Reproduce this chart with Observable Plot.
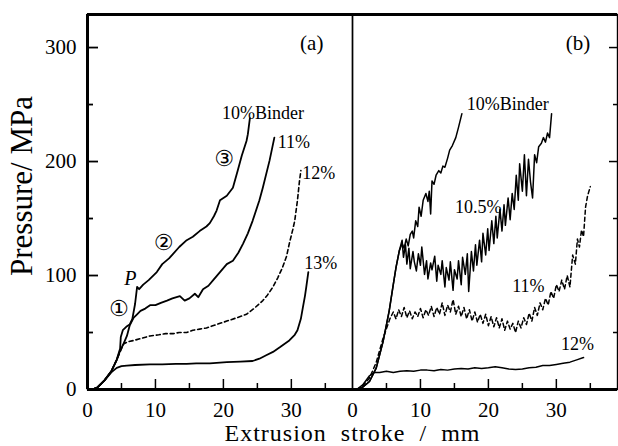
<!DOCTYPE html>
<html><head><meta charset="utf-8">
<script src="https://cdn.jsdelivr.net/npm/d3@7"></script>
<script src="https://cdn.jsdelivr.net/npm/@observablehq/plot@0.6"></script>
<style>
body{margin:0;background:#fff}
#chart svg{font-family:serif;}
</style>
</head><body><div id="chart"></div>
<script>
// ---- data ----
const xMax = 39, yMax = 329;
const xTickLabels = [0, 10, 20, 30];
const xTicksMajor = [10, 20, 30];
const xTicksMinor = [5, 15, 25, 35];
const yTickLabels = [0, 100, 200, 300];
const yTicksMajor = [100, 200, 300];
const yTicksMinor = [50, 150, 250];

// Panel (a)
const a10 = [[0.7,0],[1.5,2],[2.5,8],[3.5,16],[4.3,26],[4.8,36],[4.9,46],[5.2,52],[5.7,55],[6.2,57],[6.6,62],[7.0,75],[7.3,90],[7.6,88],[8.2,92],[9.0,96],[10.2,103],[11.0,110],[12.0,115],[12.6,119],[13.5,125],[14.6,131],[15.5,134],[16.5,139],[17.5,143],[18.0,146],[18.6,152],[19.0,157],[19.5,166],[20.5,170],[21.4,177],[22.1,192],[22.7,205],[23.4,218],[23.6,224],[23.9,238]];
const a11 = [[0.7,0],[1.5,2],[2.5,8],[3.5,16],[4.3,26],[4.8,34],[5.3,40],[5.8,47],[6.2,56],[6.8,63],[7.3,66],[7.8,69],[8.5,71],[9.2,74],[10,74],[10.8,76],[11.7,78],[12.5,80],[13.6,82],[14.3,78],[15,80],[15.8,84],[16.3,81],[17,88],[17.8,91],[18.5,96],[19.5,103],[20.5,110],[21.4,113],[22.2,120],[22.9,128],[23.6,137],[24.3,148],[25.3,166],[25.8,177],[26.8,201],[27.5,221]];
const a12 = [[0.7,0],[1.5,2],[2.5,8],[3.5,16],[4.3,26],[4.8,33],[5.3,40],[6.0,42],[6.8,43],[8,45],[9.2,47],[10.5,48],[11.5,49],[12.6,49],[13.5,50],[14.6,50],[15.5,52],[16.5,53],[17.5,54],[19,57],[20.5,60],[22,63],[23.4,66],[24.5,71],[25.8,78],[26.5,83],[27.3,90],[28,98],[28.7,107],[29.3,117],[29.7,128],[30.2,140],[30.5,148],[30.9,166],[31.2,183],[31.4,192]];
const a13 = [[0.7,0],[1.5,2],[2.5,8],[3.5,15],[4.3,19],[5.0,20.5],[5.8,21],[7,21.5],[9.2,22],[11,22],[13,22.5],[14.6,22.5],[16,23],[18,23],[20.5,24],[22.5,24.5],[24.3,25],[25.3,27],[26.3,30],[27.3,33],[28.3,37],[29.7,43],[30.5,48],[30.9,52],[31.4,62],[31.7,72],[32.0,82],[32.2,90],[32.5,103]];

// Panel (b)
const b10 = [[0.6,0],[1.5,2],[2.5,7],[3.5,19],[4.5,42],[5.4,69],[6,92],[6.4,107],[6.9,122],[7.3,128],[7.6,124],[7.9,132],[8.2,126],[8.5,136],[8.8,139],[9.0,133],[9.3,148],[9.6,143],[9.8,160],[10.1,152],[10.4,166],[10.8,172],[11.1,165],[11.3,174],[11.5,154],[11.7,183],[12.0,180],[12.3,188],[12.7,192],[13.0,190],[13.3,196],[13.6,195],[14.0,203],[14.3,210],[14.7,214],[15.2,221],[15.6,230],[16.1,242]];
const b105 = [[0.6,0],[1.5,2],[2.5,7],[3.5,19],[4.5,42],[5.4,69],[6,92],[6.4,107],[6.9,122],[7.3,131],[7.5,116],[7.8,127],[8.0,110],[8.3,124],[8.5,106],[8.9,121],[9.1,112],[9.4,104],[9.7,119],[10.0,109],[10.2,125],[10.6,101],[10.9,113],[11.1,97],[11.5,111],[11.7,105],[12.1,117],[12.4,95],[12.6,109],[13.0,101],[13.2,113],[13.6,90],[13.8,107],[14.2,96],[14.4,112],[14.8,87],[15.0,105],[15.4,97],[15.6,113],[16.0,92],[16.2,116],[16.6,101],[16.9,119],[17.1,86],[17.5,121],[17.8,104],[18.1,127],[18.3,109],[18.7,131],[19.0,112],[19.2,137],[19.6,118],[19.9,141],[20.1,122],[20.5,148],[20.8,128],[21.1,152],[21.3,133],[21.7,158],[22.0,139],[22.3,162],[22.5,144],[22.9,168],[23.2,149],[23.5,172],[23.8,158],[24.1,188],[24.4,166],[24.6,198],[25.0,174],[25.3,206],[25.6,170],[25.9,202],[26.2,182],[26.5,168],[26.8,206],[27.1,199],[27.4,213],[27.8,216],[28.1,221],[28.4,217],[28.7,225],[29.0,221],[29.3,242]];
const b11 = [[0.6,0],[1.5,3],[2.5,10],[3.5,24],[4.5,45],[5.5,62],[6,68],[6.4,62],[6.8,70],[7.2,64],[7.6,72],[8.0,63],[8.4,69],[8.8,62],[9.2,68],[9.6,64],[10,71],[10.4,63],[10.8,70],[11.2,65],[11.6,73],[12.0,64],[12.4,72],[12.8,66],[13.2,76],[13.6,65],[14.0,74],[14.4,68],[14.8,79],[15.2,66],[15.6,73],[16.0,64],[16.4,72],[16.8,62],[17.2,70],[17.6,60],[18.0,68],[18.4,59],[18.8,66],[19.2,58],[19.6,66],[20.0,56],[20.4,64],[20.8,55],[21.2,63],[21.6,54],[22.0,62],[22.4,52],[22.8,60],[23.2,53],[23.6,58],[24.0,50],[24.4,60],[24.8,54],[25.2,63],[25.6,57],[26.0,67],[26.4,60],[26.8,72],[27.2,65],[27.6,76],[28.0,70],[28.4,80],[28.8,74],[29.2,86],[29.6,80],[30.0,92],[30.4,86],[30.8,96],[31.2,88],[31.6,100],[32.0,90],[32.4,118],[32.8,110],[33.1,132],[33.4,125],[33.7,140],[34.0,134],[34.3,160],[34.6,170],[35.0,178]];
const b12 = [[0.6,0],[1.5,4],[2.5,12],[3.2,15],[4,15],[5,16],[6,15],[7,16],[8,16.5],[9,16],[10,17],[11,17],[12,16.5],[13,17.5],[14,17],[15,18],[16,18.5],[17,18],[18,19],[19,18.5],[20,19],[21,20],[22,19],[23,18],[24,17.5],[25,18],[26,19],[27,19.5],[28,21],[29,21],[30,22],[31,23],[32,24],[33,26],[34,28]];

const seriesList = [
  {panel:"a", name:"10%Binder", pts:a10, dashed:false},
  {panel:"a", name:"11%", pts:a11, dashed:false},
  {panel:"a", name:"12%", pts:a12, dashed:true},
  {panel:"a", name:"13%", pts:a13, dashed:false},
  {panel:"b", name:"10%Binder", pts:b10, dashed:false},
  {panel:"b", name:"10.5%", pts:b105, dashed:false},
  {panel:"b", name:"11%", pts:b11, dashed:true},
  {panel:"b", name:"12%", pts:b12, dashed:false}
];

// annotation text anchors (data units)
const panelLabels = [{panel:"a", x:33, y:304, t:"(a)"},{panel:"b", x:33.2, y:304, t:"(b)"}];
const seriesLabels = [
  {panel:"a", x:19.8, y:242, t:"10%Binder"},
  {panel:"a", x:28.0, y:217, t:"11%"},
  {panel:"a", x:31.6, y:190, t:"12%"},
  {panel:"a", x:31.9, y:111, t:"13%"},
  {panel:"b", x:16.8, y:250, t:"10%Binder"},
  {panel:"b", x:15.1, y:160, t:"10.5%"},
  {panel:"b", x:23.5, y:91, t:"11%"},
  {panel:"b", x:30.7, y:40, t:"12%"}
];
const stageLabels = [
  {panel:"a", x:4.6, y:71, t:"①"},
  {panel:"a", x:11.2, y:129, t:"②"},
  {panel:"a", x:20.1, y:202, t:"③"}
];
const pointLabels = [{panel:"a", x:6.3, y:97, t:"P"}];

// ---- build long table ----
const rows = seriesList.flatMap(s => s.pts.map(([x,y]) => ({panel:s.panel, series:s.panel+s.name, x, y, dashed:s.dashed})));
const solidRows = rows.filter(d => !d.dashed);
const dashedRows = rows.filter(d => d.dashed);
const isA = d => d.panel === "a";

const serif = "serif";
const chart = Plot.plot({
  width: 618, height: 446,
  marginLeft: 87, marginRight: 1, marginTop: 14, marginBottom: 57,
  fx: {domain: ["a","b"], padding: 0, axis: null, label: null},
  x: {domain: [0, xMax], label: null, axis: null},
  y: {domain: [0, yMax], label: null, axis: null},
  marks: [
    Plot.line(solidRows.filter(isA), {x:"x", y:"y", z:"series", fx:"panel", stroke:"#000", strokeWidth:1.8}),
    Plot.line(dashedRows.filter(isA), {x:"x", y:"y", z:"series", fx:"panel", stroke:"#000", strokeWidth:1.6, strokeDasharray:"4,3"}),
    Plot.line(solidRows.filter(d => !isA(d)), {x:"x", y:"y", z:"series", fx:"panel", stroke:"#000", strokeWidth:1.5}),
    Plot.line(dashedRows.filter(d => !isA(d)), {x:"x", y:"y", z:"series", fx:"panel", stroke:"#000", strokeWidth:1.5, strokeDasharray:"4,3"}),
    // frame
    Plot.frame({stroke:"#000", strokeWidth:1.4}),
    Plot.ruleY([0, yMax], {stroke:"#000", strokeWidth:3}),
    Plot.ruleX([0], {fx:["a"], stroke:"#000", strokeWidth:3}),
    // x ticks (inward) and labels
    Plot.axisX({ticks: xTicksMajor, tickSize: -10, tickFormat: () => "", label: null, strokeWidth: 1.5}),
    Plot.axisX({ticks: xTicksMinor, tickSize: -6, tickFormat: () => "", label: null, strokeWidth: 1.5}),
    Plot.axisX({ticks: xTickLabels, tickSize: 0, tickPadding: 13, label: null, fontSize: 21, fontFamily: serif}),
    // y ticks (inward) left and right
    Plot.axisY({anchor:"left", ticks: yTicksMajor, tickSize: -11, tickFormat: () => "", label: null, strokeWidth: 1.8}),
    Plot.axisY({anchor:"left", ticks: yTicksMinor, tickSize: -6, tickFormat: () => "", label: null, strokeWidth: 1.8}),
    Plot.axisY({anchor:"right", ticks: yTicksMajor, tickSize: -9, tickFormat: () => "", label: null, strokeWidth: 1.5}),
    Plot.axisY({anchor:"right", ticks: yTicksMinor, tickSize: -5, tickFormat: () => "", label: null, strokeWidth: 1.5}),
    Plot.axisY({anchor:"left", ticks: yTickLabels, tickSize: 0, tickPadding: 11, label: null, fontSize: 21, fontFamily: serif}),
    // axis titles
    Plot.text(["Pressure/ MPa"], {fx:["a"], frameAnchor:"left", rotate:-90, dx:-65, dy:-16, fontSize:31, textAnchor:"middle", lineAnchor:"middle", fontFamily: serif}),
    Plot.text(["Extrusion  stroke  /  mm"], {fx:["a"], frameAnchor:"bottom-right", dy:44, fontSize:24, textAnchor:"middle", lineAnchor:"middle", fontFamily: serif}),
    // annotations
    Plot.text(panelLabels, {fx:"panel", x:"x", y:"y", text:"t", fontSize:21, textAnchor:"middle", fontFamily: serif}),
    Plot.text(seriesLabels, {fx:"panel", x:"x", y:"y", text:"t", fontSize:18, textAnchor:"start", fontFamily: serif}),
    Plot.text(stageLabels, {fx:"panel", x:"x", y:"y", text:"t", fontSize:22, textAnchor:"middle", fontFamily:"DejaVu Sans"}),
    Plot.text(pointLabels, {fx:"panel", x:"x", y:"y", text:"t", fontSize:20, fontStyle:"italic", textAnchor:"middle", fontFamily: serif})
  ]
});
chart.querySelectorAll("text").forEach(t => {
  if (t.textContent.startsWith("Extrusion")) t.style.letterSpacing = "1px";
});
document.getElementById("chart").append(chart);
</script>
</body></html>
